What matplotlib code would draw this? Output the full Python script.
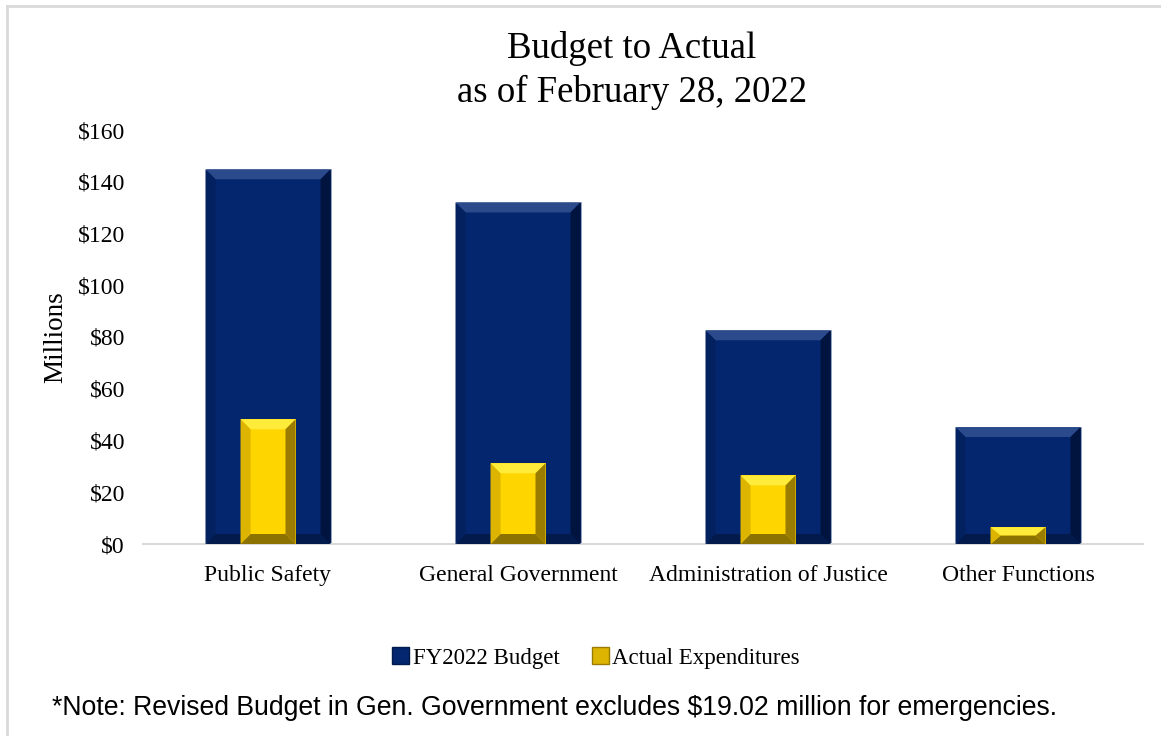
"""Budget to Actual bar chart (FY2022, as of February 28, 2022)."""

import matplotlib.pyplot as plt
from matplotlib.patches import Patch, Polygon
from matplotlib.lines import Line2D

categories = ["Public Safety", "General Government", "Administration of Justice", "Other Functions"]
budget = [144.8, 132.0, 82.6, 45.2]
actual = [48.2, 31.2, 26.5, 6.5]
yticks = [0, 20, 40, 60, 80, 100, 120, 140, 160]

W, H, DPI = 1161, 736, 100
SERIF = ["Liberation Serif", "DejaVu Serif"]

plt.rcParams["font.family"] = SERIF

fig = plt.figure(figsize=(W / DPI, H / DPI), dpi=DPI)
ax = fig.add_axes([143 / W, (H - 544) / H, 1000 / W, 414 / H])

x = range(len(categories))
b_bars = ax.bar(x, budget, width=0.5, color="#04266E", zorder=2,
                edgecolor="#9AA6BC", linewidth=0.6)
a_bars = ax.bar(x, actual, width=0.22, color="#FFD500", zorder=4, linewidth=0)

ax.set_xlim(-0.5, len(categories) - 0.5)
ax.set_ylim(0, 160)


def bevel(bars, px, colors, z):
    """バーの四辺に面取り風の台形を重ねる (px はピクセル幅)."""
    sx = px * (ax.get_xlim()[1] - ax.get_xlim()[0]) / 1000
    sy = px * 160 / 414
    top_c, bot_c, left_c, right_c = colors
    for p in bars:
        x0, y0 = p.get_x(), p.get_y()
        x1, y1 = x0 + p.get_width(), y0 + p.get_height()
        dx = min(sx, p.get_width() / 2)
        dy = min(sy, p.get_height() / 2)
        quads = [
            ([(x0, y1), (x1, y1), (x1 - dx, y1 - dy), (x0 + dx, y1 - dy)], top_c),
            ([(x0, y0), (x1, y0), (x1 - dx, y0 + dy), (x0 + dx, y0 + dy)], bot_c),
            ([(x0, y0), (x0, y1), (x0 + dx, y1 - dy), (x0 + dx, y0 + dy)], left_c),
            ([(x1, y0), (x1, y1), (x1 - dx, y1 - dy), (x1 - dx, y0 + dy)], right_c),
        ]
        for pts, c in quads:
            ax.add_patch(Polygon(pts, closed=True, facecolor=c, edgecolor="none", zorder=z))


bevel(b_bars, 10, ("#2A4A8C", "#021A4C", "#03215F", "#011440"), 3)
bevel(a_bars, 10, ("#FFEB3A", "#8C7200", "#DDB500", "#9A7C00"), 5)

for s in ("top", "right", "left"):
    ax.spines[s].set_visible(False)
ax.spines["bottom"].set_color("#D9D9D9")
ax.spines["bottom"].set_linewidth(1.5)

ax.set_yticks(yticks)
ax.set_yticklabels([f"${v}" for v in yticks], fontsize=17)
ax.set_xticks(list(x))
ax.set_xticklabels(categories, fontsize=17)
ax.tick_params(axis="x", length=0, pad=15)
ax.tick_params(axis="y", length=0, pad=13)
ax.set_ylabel("Millions", fontsize=19.5, labelpad=7)

fig.text(632 / W, 1 - 48 / H, "Budget to Actual", ha="center", va="center", fontsize=26.5)
fig.text(632 / W, 1 - 92 / H, "as of February 28, 2022", ha="center", va="center", fontsize=26.5)

handles = [Patch(facecolor="#04266E", edgecolor="#021A4C"),
           Patch(facecolor="#DDB500", edgecolor="#9A7C00")]
fig.legend(handles, ["FY2022 Budget", "Actual Expenditures"], loc="center",
           bbox_to_anchor=(596 / W, 1 - 658 / H), ncol=2, frameon=False,
           fontsize=16.5, handlelength=0.75, handleheight=0.75, handletextpad=0.15,
           columnspacing=1.4)

fig.text(52 / W, 1 - 708 / H, "*Note: Revised Budget in Gen. Government excludes $19.02 million for emergencies.",
         ha="left", va="center", fontsize=19.2, family=["Liberation Sans", "DejaVu Sans"])

# 外枠 (左と上のみ見える)
fig.add_artist(Line2D([7 / W, 7 / W], [0, 1 - 6 / H], color="#D9D9D9", linewidth=2))
fig.add_artist(Line2D([7 / W, 1], [1 - 6 / H, 1 - 6 / H], color="#D9D9D9", linewidth=2))

fig.savefig("out.png", dpi=DPI)
